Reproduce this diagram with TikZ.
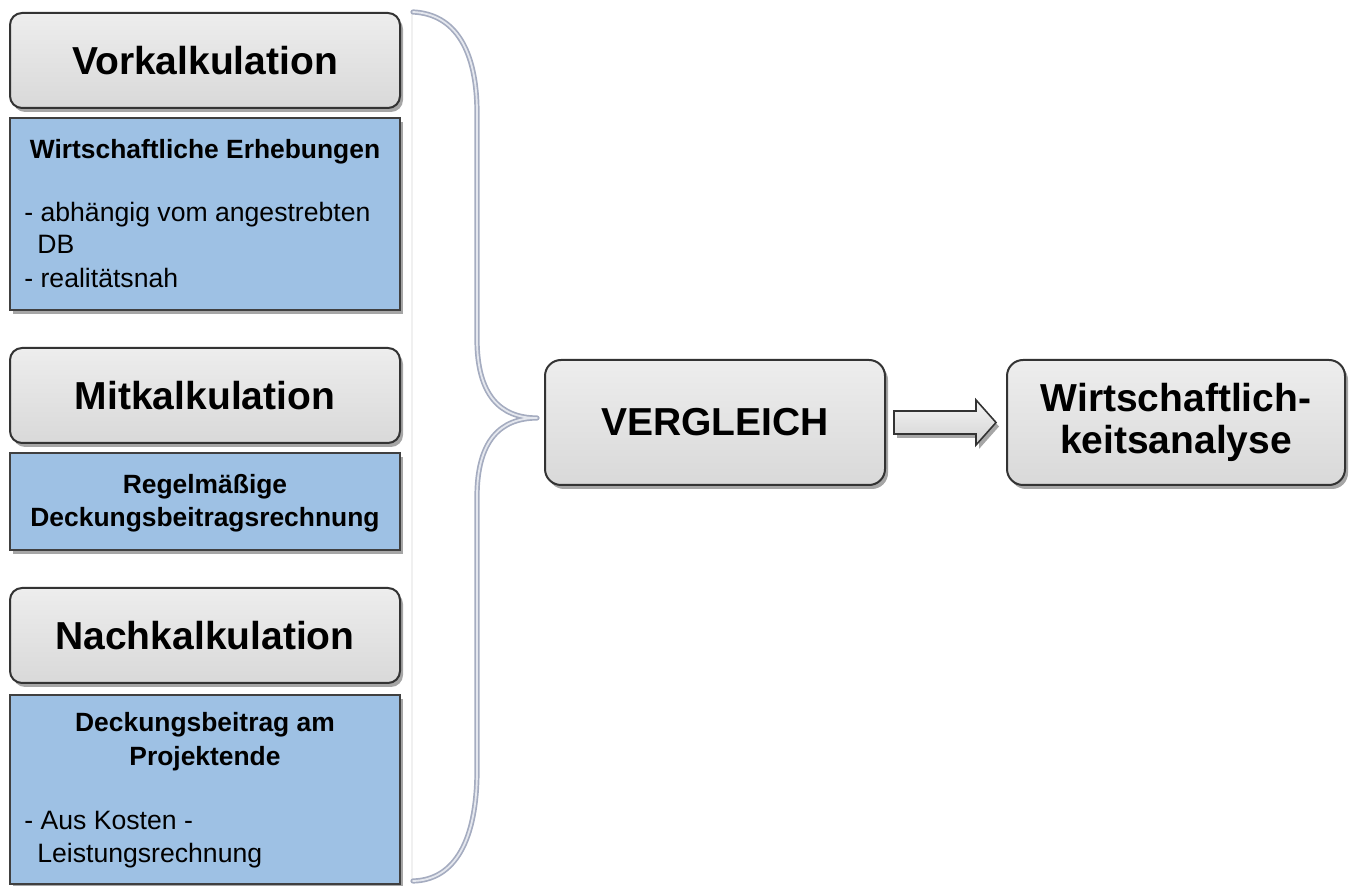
\documentclass[tikz,border=0pt]{standalone}
\usepackage{fontspec}
\setmainfont{Liberation Sans}
\usetikzlibrary{shadows,calc}
\definecolor{boxblue}{RGB}{158,193,228}
\definecolor{bracecol}{RGB}{165,172,192}
\definecolor{bracein}{RGB}{228,231,238}
\begin{document}
\begin{tikzpicture}[x=0.5pt,y=-0.5pt,
  shad/.style={drop shadow={shadow xshift=1.5pt,shadow yshift=-2pt,opacity=0.35,fill=black}},
  graybox/.style={shad,draw=black!80, line width=1pt, rounded corners=6pt,
    top color=gray!14, bottom color=gray!30, minimum width=195pt, minimum height=47.5pt,
    font=\fontsize{19.5}{23}\selectfont\bfseries},
  bigbox/.style={graybox, rounded corners=8pt, minimum width=170pt, minimum height=62.5pt, align=center},
  bluebox/.style={shad,draw=black!75, line width=1pt, fill=boxblue, minimum width=195pt},
  btitle/.style={font=\fontsize{13.2}{16.5}\selectfont\bfseries, inner sep=0pt, text height=10pt, text depth=3pt},
  bline/.style={font=\fontsize{13.3}{16.5}\selectfont, inner sep=0pt, anchor=west, text height=10pt, text depth=3pt},
  brace/.style={line cap=round, line join=round}
]
\useasboundingbox (0,0) rectangle (1354,886);

% faint vertical line
\draw[gray!12, line width=1pt] (412,12) -- (412,881);

% brace
\coordinate (btip) at (537,418);
\foreach \c/\w in {bracecol/2.6pt, bracein/0.9pt}{
\draw[brace, \c, line width=\w] (413,12) .. controls (455,14) and (477,50) .. (477,113)
  -- (477,339) .. controls (477,395) and (500,418) .. (btip)
  .. controls (500,418) and (477,441) .. (477,497)
  -- (477,770) .. controls (477,840) and (455,880) .. (413,881);
}

% left column
\node[graybox] (vk) at (205,60.5) {Vorkalkulation};
\node[bluebox, minimum height=96pt] (b1) at (205,214) {};
\node[btitle] (t1) at (205,152) {Wirtschaftliche Erhebungen};
\node[bline] (l1a) at (24,215) {- abhängig vom angestrebten};
\node[bline] (l1b) at (37,247) {DB};
\node[bline] (l1c) at (24,281) {- realitätsnah};

\node[graybox] (mk) at (205,395.5) {Mitkalkulation};
\node[bluebox, minimum height=48.5pt] (b2) at (205,501.5) {};
\node[btitle] (t2a) at (205,487) {Regelmäßige};
\node[btitle] (t2b) at (205,520) {Deckungsbeitragsrechnung};

\node[graybox] (nk) at (205,635.5) {Nachkalkulation};
\node[bluebox, minimum height=94.5pt] (b3) at (205,789.5) {};
\node[btitle] (t3a) at (205,725) {Deckungsbeitrag am};
\node[btitle] (t3b) at (205,758) {Projektende};
\node[bline] (l3a) at (24,822) {- Aus Kosten -};
\node[bline] (l3b) at (37,855) {Leistungsrechnung};

% right part
\node[bigbox] (verg) at (715,422.5) {VERGLEICH};
\node[bigbox, minimum width=169pt, font=\fontsize{19.5}{21}\selectfont\bfseries] (wa) at (1176,422.5) {Wirtschaftlich-\\keitsanalyse};

% block arrow
\draw[shad, draw=black!80, line width=0.8pt, top color=gray!8, bottom color=gray!35, line join=miter]
  ($(verg.east)+(8,-11.5)$) -- ($(verg.east)+(90,-11.5)$) -- ($(verg.east)+(90,-22.5)$)
  -- ($(wa.west)+(-10,0)$) -- ($(verg.east)+(90,22.5)$) -- ($(verg.east)+(90,11.5)$)
  -- ($(verg.east)+(8,11.5)$) -- cycle;
\end{tikzpicture}
\end{document}
